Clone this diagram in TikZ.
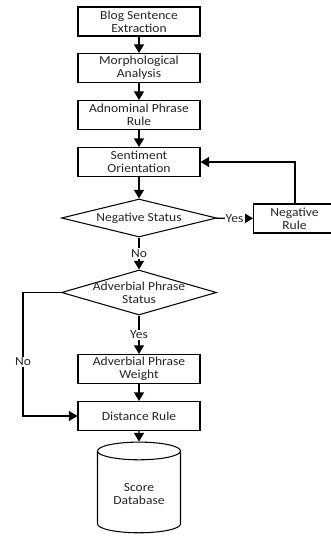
\documentclass[tikz,border=0pt]{standalone}
\usepackage{fontspec}
\setmainfont{Carlito}[FakeStretch=1.1]
\usetikzlibrary{shapes.geometric,arrows.meta}

\begin{document}
\begin{tikzpicture}[x=0.03cm, y=-0.03cm,
        font=\fontsize{10.5}{11}\selectfont, text=black!85,
        proc/.style={draw, line width=0.9pt, minimum width=3.66cm, minimum height=0.87cm, align=center, inner sep=1pt},
        dec/.style={draw, diamond, line width=0.9pt, minimum width=4.65cm, inner sep=0pt},
        arr/.style={-{Triangle[length=2.6mm, width=3mm]}, line width=1.2pt},
        lbl/.style={fill=white, inner sep=1pt}]
    \useasboundingbox (0,0) rectangle (330,537);
    \node[proc] (bse) at (139,21.5) {Blog Sentence\\Extraction};
    \node[proc] (ma) at (139,68) {Morphological\\Analysis};
    \node[proc] (apr) at (139,115) {Adnominal Phrase\\Rule};
    \node[proc] (so) at (139,162) {Sentiment\\Orientation};
    \node[dec, minimum height=1.14cm, label={center:Negative Status}] (ns) at (139,218) {};
    \node[proc, anchor=west, minimum width=3cm,
        label={[align=center, xshift=-0.27cm]center:Negative\\Rule}] (nr) at (253,218.5) {};
    \node[dec, minimum height=1.35cm, label={[align=center]center:Adverbial Phrase\\Status}] (aps) at (139,292.5) {};
    \node[proc] (apw) at (139,369) {Adverbial Phrase\\Weight};
    \node[proc] (dr) at (139,416) {Distance Rule};
    \node[draw, cylinder, shape border rotate=90, shape aspect=0.3, line width=0.9pt,
        minimum width=2.49cm, minimum height=2.72cm, align=center] (sd) at (139,494) {Score\\Database};
    \coordinate (nobend) at (23,292.5);

    \draw[arr] (bse) -- (ma);
    \draw[arr] (ma) -- (apr);
    \draw[arr] (apr) -- (so);
    \draw[arr] (so) -- (ns);
    \draw[arr] (ns) -- node[lbl] {Yes} (nr);
    \draw[arr] ([xshift=1.26cm]nr.north west) |- (so.east);
    \draw[arr] (ns) -- node[lbl] {No} (aps);
    \draw[arr] (aps) -- node[lbl] {Yes} (apw);
    \draw[arr] (apw) -- (dr);
    \draw[arr] (aps.west) -- (nobend) |- node[lbl, pos=0.28] {No} (dr.west);
    \draw[arr] (dr) -- (sd);
\end{tikzpicture}
\end{document}
